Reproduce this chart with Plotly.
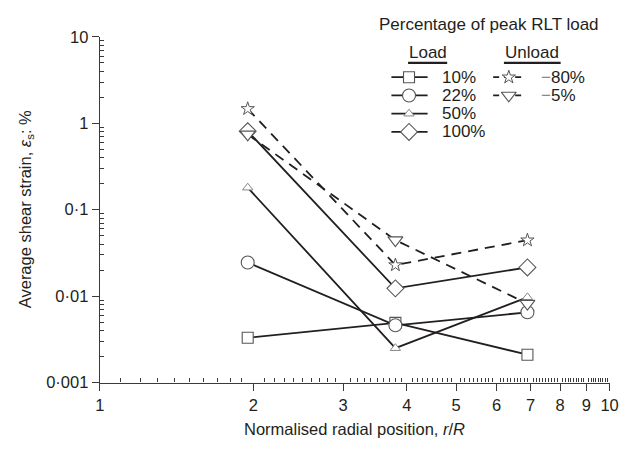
import plotly.graph_objects as go

# ---------------- data ----------------
r_pos = [1.95, 3.8, 6.9]                      # normalised radial position r/R
load_10 = [0.0033, 0.0049, 0.0021]
load_22 = [0.0245, 0.0046, 0.0065]
load_50 = [0.18, 0.0025, 0.0097]
load_100 = [0.81, 0.0123, 0.0215]
unload_80 = [1.47, 0.0229, 0.0444]
unload_5 = [0.745, 0.0445, 0.0082]

load_labels = ["10%", "22%", "50%", "100%"]
unload_labels = ["80%", "5%"]
x_tickvals = [1, 2, 3, 4, 5, 6, 7, 8, 9, 10]
x_ticktext = ["1", "2", "3", "4", "5", "6", "7", "8", "9", "10"]
y_tickvals = [0.001, 0.01, 0.1, 1, 10]
y_ticktext = ["0·001", "0·01", "0·1", "1", "10"]

# ---------------- layout constants ----------------
W, H = 644, 454
L, R, T, B = 97, 618, 29, 389
FONT = "Liberation Sans, Arial, Helvetica, sans-serif"
TXT = "#231f20"
LINE = "#231f20"
MK = "#555555"

def px(x):
    return x / W

def py(y):
    return 1 - y / H

x_minor = [round(d + k / 10, 2) for d in range(1, 10) for k in range(1, 10)]
y_minor = [m * 10 ** e for e in range(-3, 1) for m in range(2, 10)]

load_series = [load_10, load_22, load_50, load_100]
load_styles = [
    dict(symbol="square", size=11, line=dict(color=MK, width=1.1)),
    dict(symbol="circle", size=13, line=dict(color=MK, width=1.1)),
    dict(symbol="triangle-up", size=9, line=dict(color="#888888", width=1.0)),
    dict(symbol="diamond", size=13, line=dict(color=MK, width=1.1)),
]
unload_series = [unload_80, unload_5]
unload_styles = [
    dict(symbol="star", size=10, line=dict(color=MK, width=1.0)),
    dict(symbol="triangle-down", size=13, line=dict(color=MK, width=1.1)),
]
DASH = "10px,7px"

fig = go.Figure()

for vals, st, name in zip(load_series, load_styles, load_labels):
    fig.add_trace(go.Scatter(
        x=r_pos, y=vals, mode="lines+markers", name=name,
        line=dict(color=LINE, width=1.8),
        marker=dict(color="white", **st), showlegend=False, cliponaxis=False))

for vals, st, name in zip(unload_series, unload_styles, unload_labels):
    fig.add_trace(go.Scatter(
        x=r_pos, y=vals, mode="lines+markers", name=name,
        line=dict(color=LINE, width=1.8, dash=DASH),
        marker=dict(color="white", **st), showlegend=False, cliponaxis=False))

# ---------------- hand-made legend (pixel overlay axes) ----------------
load_rows = [71, 90, 109, 128]
unload_rows = [71, 90]
LOAD_X0, LOAD_X1, LOAD_MX, LOAD_TX = 395, 432, 413, 445
UNL_X0, UNL_X1, UNL_MX, UNL_TX = 499, 531, 515, 546

annotations = []
for yrow, st, lab in zip(load_rows, load_styles, load_labels):
    fig.add_trace(go.Scatter(x=[LOAD_X0, LOAD_X1], y=[yrow, yrow], mode="lines",
                             line=dict(color=LINE, width=1.8), xaxis="x2", yaxis="y2",
                             showlegend=False, hoverinfo="skip"))
    fig.add_trace(go.Scatter(x=[LOAD_MX], y=[yrow], mode="markers",
                             marker=dict(color="white", **st), xaxis="x2", yaxis="y2",
                             showlegend=False, hoverinfo="skip"))
    annotations.append(dict(x=px(LOAD_TX), y=py(yrow), xref="paper", yref="paper",
                            text=lab, showarrow=False, xanchor="left", yanchor="middle",
                            font=dict(size=17, color=TXT, family=FONT)))

for yrow, st, lab in zip(unload_rows, unload_styles, unload_labels):
    fig.add_trace(go.Scatter(x=[UNL_X0, UNL_X1], y=[yrow, yrow], mode="lines",
                             line=dict(color=LINE, width=1.8, dash="6px,5px"), xaxis="x2", yaxis="y2",
                             showlegend=False, hoverinfo="skip"))
    fig.add_trace(go.Scatter(x=[UNL_MX], y=[yrow], mode="markers",
                             marker=dict(color="white", **st), xaxis="x2", yaxis="y2",
                             showlegend=False, hoverinfo="skip"))
    annotations.append(dict(x=px(UNL_TX), y=py(yrow), xref="paper", yref="paper",
                            text='<span style="color:#8a8a8a">−</span>' + lab,
                            showarrow=False, xanchor="left", yanchor="middle",
                            font=dict(size=17, color=TXT, family=FONT)))

annotations += [
    dict(x=px(609), y=py(16), xref="paper", yref="paper", text="Percentage of peak RLT load",
         showarrow=False, xanchor="right", yanchor="middle",
         font=dict(size=17, color=TXT, family=FONT)),
    dict(x=px(432), y=py(45), xref="paper", yref="paper", text="Load",
         showarrow=False, xanchor="center", yanchor="middle",
         font=dict(size=17, color=TXT, family=FONT)),
    dict(x=px(539), y=py(45), xref="paper", yref="paper", text="Unload",
         showarrow=False, xanchor="center", yanchor="middle",
         font=dict(size=17, color=TXT, family=FONT)),
    dict(x=px((L + R) / 2), y=py(437), xref="paper", yref="paper",
         text="Normalised radial position, <i>r</i>/<i>R</i>",
         showarrow=False, xanchor="center", yanchor="middle",
         font=dict(size=16.5, color=TXT, family=FONT)),
    dict(x=px(21), y=py((T + B) / 2), xref="paper", yref="paper",
         text="Average shear strain, <i>ε</i><sub>s</sub>: %", textangle=-90,
         showarrow=False, xanchor="center", yanchor="middle",
         font=dict(size=16.5, color=TXT, family=FONT)),
]

shapes = [
    dict(type="line", xref="paper", yref="paper", x0=px(412), x1=px(452), y0=py(56), y1=py(56),
         line=dict(color=LINE, width=2.2)),
    dict(type="line", xref="paper", yref="paper", x0=px(510), x1=px(568), y0=py(56), y1=py(56),
         line=dict(color=LINE, width=2.2)),
]

axis_common = dict(showline=True, linecolor="#3a3a3a", linewidth=1.4, showgrid=False,
                   zeroline=False, ticks="outside", ticklen=7, tickwidth=1.3,
                   tickcolor="#3a3a3a", tickfont=dict(size=16.5, color=TXT, family=FONT))

fig.update_layout(
    width=W, height=H,
    margin=dict(l=0, r=0, t=0, b=0),
    paper_bgcolor="white", plot_bgcolor="rgba(0,0,0,0)",
    showlegend=False,
    xaxis=dict(type="log", range=[0, 1], domain=[px(L), px(R)], anchor="y",
               tickmode="array", tickvals=x_tickvals, ticktext=x_ticktext,
               minor=dict(tickmode="array", tickvals=x_minor, ticks="inside", ticklen=4,
                          tickwidth=1, tickcolor="#3a3a3a"),
               **axis_common),
    yaxis=dict(type="log", range=[-3, 1], domain=[py(B), py(T)], anchor="x",
               tickmode="array", tickvals=y_tickvals, ticktext=y_ticktext,
               minor=dict(tickmode="array", tickvals=y_minor, ticks="inside", ticklen=4,
                          tickwidth=1, tickcolor="#3a3a3a"),
               **axis_common),
    xaxis2=dict(domain=[0, 1], range=[0, W], anchor="y2", visible=False, fixedrange=True),
    yaxis2=dict(domain=[0, 1], range=[H, 0], anchor="x2", visible=False, fixedrange=True),
    annotations=annotations,
    shapes=shapes,
)

fig.write_html("out.html")
